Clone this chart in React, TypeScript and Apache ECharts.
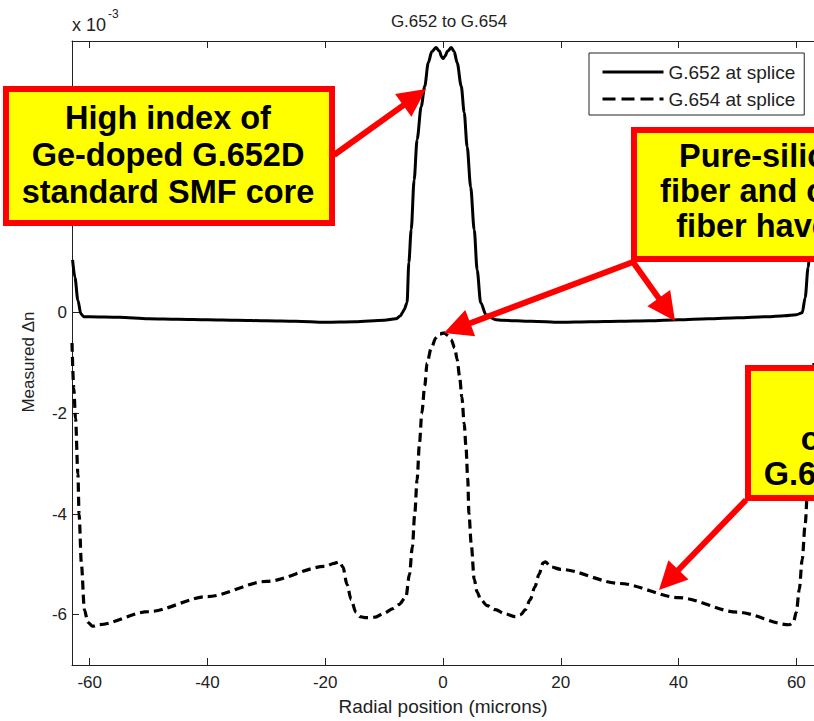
import React, { useEffect, useRef } from "react";
import * as echarts from "echarts";

const xTicks = [-60, -40, -20, 0, 20, 40, 60];
const yTicks = [-6, -4, -2, 0, 2, 4];
const yTickLabels = [-6, -4, -2, 0];

const g652X = [-62.9, -62.5, -62.0, -61.5, -61.0, -60, -55, -50, -45, -40, -35, -30, -25, -20, -15, -10, -8, -7.2, -6.9, -6.6, -6.1, -5.8, -5.4, -4.9, -4.4, -3.7, -3.1, -2.5, -1.9, -1.2, -0.6, -0.25, 0, 0.3, 0.8, 1.4, 1.9, 2.4, 3.1, 3.6, 4.1, 4.7, 5.3, 5.8, 6.4, 7.3, 9, 10, 15, 20, 25, 30, 35, 40, 45, 50, 55, 58, 60, 61, 61.5, 62, 62.5, 63];
const g652Y = [1.05, 0.7, 0.25, -0.02, -0.08, -0.08, -0.09, -0.12, -0.13, -0.14, -0.15, -0.16, -0.17, -0.19, -0.18, -0.15, -0.12, -0.06, 0, 0.06, 0.2, 1.0, 1.65, 2.64, 3.44, 4.1, 4.5, 4.97, 5.19, 5.27, 5.2, 5.09, 5.05, 5.09, 5.2, 5.27, 5.19, 4.97, 4.5, 3.98, 3.3, 2.5, 1.65, 0.85, 0.2, -0.04, -0.14, -0.15, -0.17, -0.19, -0.18, -0.17, -0.16, -0.14, -0.12, -0.1, -0.08, -0.06, -0.04, 0, 0.3, 0.9, 1.6, 2.2];

const g654X = [-63, -62.7, -62.4, -62.0, -61.8, -61.4, -60.9, -60.3, -59.5, -58.5, -50, -40, -30, -20, -18.5, -17.6, -17, -16.3, -15.6, -14.8, -14.1, -13, -11.5, -10, -8.5, -7.5, -6.3, -5.7, -5.2, -4.8, -4.4, -4.0, -3.6, -3.1, -2.7, -2.0, -1.2, -0.5, 0.2, 0.8, 1.4, 2.0, 2.4, 2.8, 3.2, 3.6, 3.9, 4.2, 4.4, 4.8, 5.3, 5.8, 6.4, 7.5, 8.9, 10.5, 12.3, 13.2, 14.0, 14.8, 15.6, 16.3, 17.0, 17.4, 18.3, 20, 30, 40, 50, 58.8, 59.5, 60.0, 60.5, 61.0, 61.5, 62.0, 62.5, 63.0];
const g654Y = [-0.6, -1.5, -2.1, -3.2, -4.0, -5.0, -5.9, -6.15, -6.23, -6.2, -5.94, -5.64, -5.34, -5.04, -4.98, -4.95, -5.05, -5.4, -5.7, -5.95, -6.04, -6.06, -6.05, -5.97, -5.88, -5.8, -5.65, -5.2, -4.65, -4.0, -3.32, -2.6, -2.0, -1.45, -1.0, -0.7, -0.5, -0.42, -0.4, -0.45, -0.54, -0.7, -0.93, -1.25, -1.67, -2.2, -2.66, -3.3, -3.98, -4.6, -5.3, -5.55, -5.7, -5.82, -5.9, -5.98, -6.04, -6.0, -5.9, -5.7, -5.45, -5.2, -4.97, -4.95, -5.05, -5.1, -5.38, -5.66, -5.95, -6.2, -6.15, -5.95, -5.5, -4.9, -4.2, -3.3, -2.2, -1.0];

const seriesNames = ["G.652 at splice", "G.654 at splice"];
const box1Lines = ["High index of", "Ge-doped G.652D", "standard SMF core"];
const box2Lines = ["Pure-silica core", "fiber and cladding", "fiber have lower"];
const box3Lines = ["Tilt", "of the", "G.654 clad"];

const FONT = "'Liberation Sans', Arial, Helvetica, sans-serif";
const RED = "#ff0000";
const YELLOW = "#ffff00";

function arrow(x1: number, y1: number, x2: number, y2: number) {
  const dx = x2 - x1;
  const dy = y2 - y1;
  const L = Math.hypot(dx, dy);
  const ux = dx / L;
  const uy = dy / L;
  const hl = 28;
  const hw = 14;
  const bx = x2 - ux * hl;
  const by = y2 - uy * hl;
  return [
    {
      type: "line",
      z: 100,
      shape: { x1, y1, x2: bx + ux * 3, y2: by + uy * 3 },
      style: { stroke: RED, lineWidth: 6 },
    },
    {
      type: "polygon",
      z: 100,
      shape: {
        points: [
          [x2, y2],
          [bx - uy * hw, by + ux * hw],
          [bx + uy * hw, by - ux * hw],
        ],
      },
      style: { fill: RED },
    },
  ];
}

function box(x: number, y: number, w: number, h: number, lines: string[], cx: number, ty: number, lh: number) {
  return [
    {
      type: "rect",
      z: 101,
      shape: { x, y, width: w, height: h },
      style: { fill: YELLOW, stroke: RED, lineWidth: 6 },
    },
    {
      type: "text",
      z: 102,
      x: cx,
      y: ty,
      style: {
        text: lines.join("\n"),
        font: `bold 32.5px ${FONT}`,
        fill: "#000",
        align: "center",
        verticalAlign: "top",
        lineHeight: lh,
      },
    },
  ];
}

export default function App() {
  const ref = useRef<HTMLDivElement>(null);
  useEffect(() => {
    if (!ref.current) return;
    const chart = echarts.init(ref.current, undefined, { renderer: "svg" });
    const axisColor = "#222";
    const d652 = g652X.map((x, i) => [x, g652Y[i]]);
    const d654 = g654X.map((x, i) => [x, g654Y[i]]);
    const hidden = { color: "rgba(0,0,0,0)", borderColor: "rgba(0,0,0,0)", borderWidth: 0 };
    chart.setOption({
      animation: false,
      backgroundColor: "#fff",
      textStyle: { fontFamily: FONT },
      title: {
        text: "G.652 to G.654",
        left: 444,
        top: 8,
        textAlign: "center",
        textStyle: { fontSize: 17, fontWeight: "normal", color: axisColor, fontFamily: FONT },
      },
      legend: {
        left: 589,
        top: 53,
        orient: "vertical",
        padding: [9, 9, 6, 12],
        itemWidth: 61,
        itemHeight: 20,
        itemGap: 7,
        borderColor: axisColor,
        borderWidth: 1,
        backgroundColor: "#fff",
        itemStyle: hidden,
        textStyle: { fontSize: 19, color: axisColor, fontFamily: FONT, lineHeight: 20 },
        data: [
          { name: seriesNames[0], itemStyle: hidden, lineStyle: { width: 3, type: "solid", color: "#000" } },
          { name: seriesNames[1], itemStyle: hidden, lineStyle: { width: 3, type: [13, 6], color: "#000" } },
        ],
      },
      grid: { left: 72, top: 41, right: -1.4, bottom: 55, containLabel: false },
      xAxis: [
        {
          type: "value",
          min: -63,
          max: 63,
          position: "bottom",
          name: "Radial position (microns)",
          nameLocation: "middle",
          nameGap: 32,
          nameTextStyle: { fontSize: 19, color: axisColor, fontFamily: FONT },
          axisLine: { show: true, onZero: false, lineStyle: { color: axisColor, width: 1 } },
          axisTick: { show: true, inside: true, length: 7, customValues: xTicks, lineStyle: { color: axisColor } },
          axisLabel: { customValues: xTicks, fontSize: 17, color: axisColor, margin: 9, fontFamily: FONT },
          splitLine: { show: false },
        },
        {
          type: "value",
          min: -63,
          max: 63,
          position: "top",
          axisLine: { show: true, onZero: false, lineStyle: { color: axisColor, width: 1 } },
          axisTick: { show: true, inside: true, length: 7, customValues: xTicks, lineStyle: { color: axisColor } },
          axisLabel: { show: false },
          splitLine: { show: false },
        },
      ],
      yAxis: {
        type: "value",
        min: -7,
        max: 5.4,
        position: "left",
        name: "Measured Δn",
        nameLocation: "middle",
        nameGap: 35,
        nameTextStyle: { fontSize: 17, color: axisColor, fontFamily: FONT, padding: [0, 18, 0, 0] },
        axisLine: { show: true, onZero: false, lineStyle: { color: axisColor, width: 1 } },
        axisTick: { show: true, inside: true, length: 7, customValues: yTicks, lineStyle: { color: axisColor } },
        axisLabel: { customValues: yTickLabels, fontSize: 17, color: axisColor, margin: 5, fontFamily: FONT },
        splitLine: { show: false },
      },
      series: [
        {
          name: seriesNames[0],
          type: "line",
          data: d652,
          symbol: "none",
          smooth: 0.3,
          smoothMonotone: "x",
          lineStyle: { color: "#000", width: 3, type: "solid" },
          itemStyle: { color: "#000" },
        },
        {
          name: seriesNames[1],
          type: "line",
          data: d654,
          symbol: "none",
          smooth: 0.3,
          smoothMonotone: "x",
          lineStyle: { color: "#000", width: 3.2, type: [9, 5] },
          itemStyle: { color: "#000" },
        },
      ],
      graphic: [
        {
          type: "text",
          x: 72,
          y: 16,
          style: { text: "x 10", font: `18px ${FONT}`, fill: axisColor },
        },
        {
          type: "text",
          x: 108,
          y: 8,
          style: { text: "-3", font: `12px ${FONT}`, fill: axisColor },
        },
        ...arrow(334, 155, 426, 89),
        ...arrow(633, 262, 444, 333),
        ...arrow(633, 262, 675, 321),
        ...arrow(746, 500, 659, 590),
        ...box(6, 89, 326, 134, box1Lines, 168, 99, 37),
        ...box(634, 130, 400, 129, box2Lines, 800, 138, 35),
        ...box(748, 368, 300, 130, box3Lines, 845, 386, 35),
      ],
    });
    return () => chart.dispose();
  }, []);
  return (
    <div
      ref={ref}
      style={{ position: "fixed", left: 0, top: 0, width: 814, height: 721 }}
    />
  );
}
